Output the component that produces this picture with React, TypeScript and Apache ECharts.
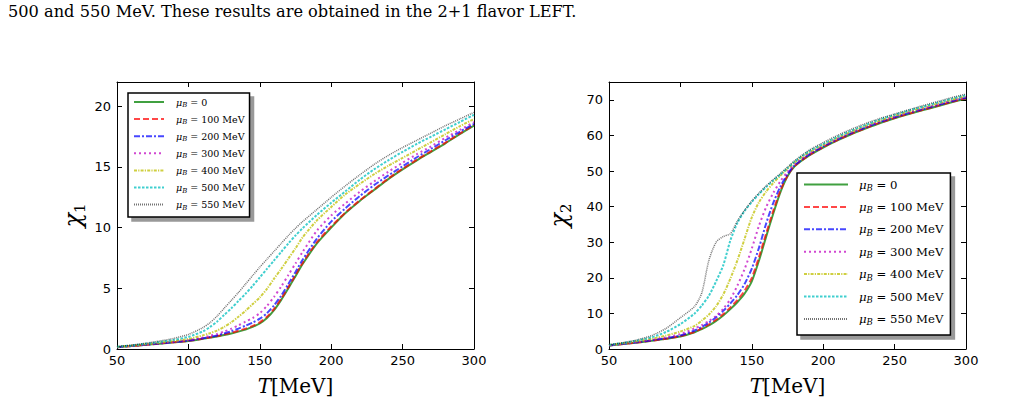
import React, { useEffect, useRef } from "react";
import * as echarts from "echarts";

// Temperature grid (MeV) shared by every curve
const temperatures = [
  50, 60, 70, 80, 90, 100, 110, 115, 120, 125, 130, 135, 140, 145, 150, 155,
  160, 165, 170, 175, 180, 190, 200, 210, 220, 230, 240, 250, 260, 270, 280, 290, 300,
];

// Baryon chemical potentials
const muValues = ["0", "100 MeV", "200 MeV", "300 MeV", "400 MeV", "500 MeV", "550 MeV"];

// chi_1 for each mu_B
const chi1Mu0 = [0.15, 0.24, 0.34, 0.44, 0.55, 0.66, 0.84, 0.94, 1.03, 1.15, 1.28, 1.43, 1.6, 1.82, 2.1, 2.55, 3.2, 4.05, 5.0, 6.0, 7.0, 8.7, 10.0, 11.2, 12.2, 13.1, 14.0, 14.8, 15.55, 16.25, 16.95, 17.7, 18.4];
const chi1Mu100 = [0.15, 0.24, 0.34, 0.45, 0.56, 0.67, 0.85, 0.95, 1.06, 1.19, 1.33, 1.5, 1.68, 1.9, 2.2, 2.65, 3.3, 4.15, 5.1, 6.1, 7.1, 8.8, 10.1, 11.25, 12.25, 13.15, 14.05, 14.85, 15.6, 16.3, 17.0, 17.75, 18.45];
const chi1Mu200 = [0.15, 0.25, 0.35, 0.46, 0.57, 0.69, 0.88, 0.99, 1.12, 1.28, 1.46, 1.68, 1.92, 2.18, 2.5, 2.95, 3.6, 4.4, 5.35, 6.35, 7.35, 9.1, 10.5, 11.6, 12.6, 13.5, 14.3, 15.05, 15.8, 16.5, 17.2, 17.9, 18.55];
const chi1Mu300 = [0.16, 0.26, 0.37, 0.48, 0.6, 0.74, 0.95, 1.08, 1.24, 1.43, 1.67, 1.95, 2.25, 2.55, 2.95, 3.55, 4.3, 5.15, 6.1, 7.05, 8.0, 9.75, 11.0, 12.0, 12.95, 13.8, 14.6, 15.35, 16.05, 16.7, 17.4, 18.05, 18.7];
const chi1Mu400 = [0.17, 0.27, 0.39, 0.52, 0.66, 0.83, 1.12, 1.3, 1.52, 1.82, 2.2, 2.65, 3.15, 3.7, 4.25, 4.95, 5.8, 6.6, 7.45, 8.3, 9.2, 10.6, 11.7, 12.75, 13.6, 14.4, 15.1, 15.75, 16.4, 17.05, 17.7, 18.35, 18.95];
const chi1Mu500 = [0.18, 0.29, 0.43, 0.58, 0.76, 1.0, 1.45, 1.8, 2.25, 2.8, 3.35, 3.95, 4.55, 5.2, 5.9, 6.6, 7.3, 8.0, 8.7, 9.35, 9.95, 11.05, 12.05, 13.0, 13.95, 14.8, 15.55, 16.25, 16.9, 17.5, 18.1, 18.7, 19.3];
const chi1Mu550 = [0.2, 0.32, 0.48, 0.66, 0.88, 1.2, 1.75, 2.15, 2.7, 3.35, 4.0, 4.65, 5.35, 6.05, 6.75, 7.4, 8.05, 8.7, 9.35, 9.95, 10.5, 11.5, 12.5, 13.45, 14.35, 15.2, 15.95, 16.6, 17.2, 17.8, 18.4, 18.95, 19.5];

// chi_2 for each mu_B
const chi2Mu0 = [1.0, 1.4, 1.8, 2.3, 2.85, 3.5, 4.7, 5.6, 6.6, 7.9, 9.4, 11.2, 13.2, 15.6, 19.0, 24.8, 31.5, 38.0, 44.0, 48.5, 51.3, 54.3, 56.6, 58.6, 60.4, 62.0, 63.5, 64.8, 66.0, 67.1, 68.2, 69.3, 70.3];
const chi2Mu100 = [1.0, 1.4, 1.85, 2.35, 2.9, 3.6, 4.85, 5.8, 6.9, 8.2, 9.8, 11.7, 13.8, 16.4, 20.0, 25.8, 32.4, 38.8, 44.5, 48.7, 51.4, 54.4, 56.7, 58.7, 60.5, 62.1, 63.6, 64.9, 66.1, 67.2, 68.3, 69.4, 70.4];
const chi2Mu200 = [1.0, 1.45, 1.9, 2.45, 3.05, 3.8, 5.2, 6.2, 7.4, 8.9, 10.7, 12.8, 15.2, 18.3, 22.6, 28.4, 35.2, 41.0, 45.6, 49.1, 51.6, 54.6, 56.9, 58.9, 60.7, 62.3, 63.8, 65.1, 66.3, 67.4, 68.5, 69.6, 70.6];
const chi2Mu300 = [1.05, 1.5, 2.0, 2.6, 3.3, 4.2, 5.8, 6.7, 7.9, 9.3, 11.3, 14.0, 17.9, 22.5, 28.2, 34.6, 39.8, 43.8, 47.1, 49.8, 52.0, 54.9, 57.1, 59.1, 60.9, 62.5, 64.0, 65.3, 66.5, 67.6, 68.7, 69.8, 70.8];
const chi2Mu400 = [1.1, 1.6, 2.2, 2.9, 3.8, 4.9, 6.5, 8.0, 9.7, 12.0, 15.3, 19.8, 25.0, 31.0, 37.0, 41.2, 44.2, 46.6, 48.7, 50.6, 52.4, 55.2, 57.3, 59.3, 61.1, 62.7, 64.2, 65.5, 66.7, 67.8, 68.9, 70.0, 71.0];
const chi2Mu500 = [1.15, 1.7, 2.4, 3.3, 4.8, 7.0, 10.0, 12.2, 15.0, 19.0, 23.5, 30.5, 35.5, 38.8, 41.3, 43.5, 45.5, 47.3, 49.0, 50.8, 52.6, 55.5, 57.6, 59.6, 61.4, 63.0, 64.5, 65.8, 67.0, 68.1, 69.2, 70.3, 71.3];
const chi2Mu550 = [1.2, 1.8, 2.6, 3.8, 5.8, 8.8, 12.0, 15.8, 25.0, 30.0, 31.6, 32.4, 36.0, 39.0, 41.6, 43.8, 45.8, 47.6, 49.3, 51.1, 52.9, 55.8, 58.0, 60.0, 61.8, 63.4, 64.8, 66.0, 67.2, 68.4, 69.5, 70.6, 71.6];

const chi1Curves = [chi1Mu0, chi1Mu100, chi1Mu200, chi1Mu300, chi1Mu400, chi1Mu500, chi1Mu550];
const chi2Curves = [chi2Mu0, chi2Mu100, chi2Mu200, chi2Mu300, chi2Mu400, chi2Mu500, chi2Mu550];

const captionText = "500 and 550 MeV. These results are obtained in the 2+1 flavor LEFT.";

// Line appearance per mu_B
const lineColors = [
  "rgba(0,128,0,0.75)",
  "rgba(255,0,0,0.72)",
  "rgba(0,0,255,0.72)",
  "rgba(191,0,191,0.72)",
  "rgba(191,191,0,0.75)",
  "rgba(0,191,191,0.75)",
  "rgba(0,0,0,0.55)",
];
const lineDashes: any[] = ["solid", [6, 3], [6, 2, 2, 2], [2, 3], [3, 1.2, 1.2, 1.2], [2.5, 1.5], [1, 1]];
const lineWidths = [2, 2, 2, 2, 2, 2, 1.5];

const SERIF = "'DejaVu Serif', serif";
const SANS = "'DejaVu Sans', sans-serif";

const seriesNames = muValues.map((v) => "μB = " + v);

function legendFormatter(name: string) {
  const i = seriesNames.indexOf(name);
  return "{m|μ}{b|B}{e| = " + muValues[i] + "}";
}

function buildSeries(curves: number[][], axisIndex: number) {
  return curves.map((vals, i) => ({
    type: "line",
    name: seriesNames[i],
    xAxisIndex: axisIndex,
    yAxisIndex: axisIndex,
    data: temperatures.map((t, k) => [t, vals[k]]),
    showSymbol: false,
    symbol: "none",
    smooth: 0.25,
    clip: true,
    lineStyle: { color: lineColors[i], width: lineWidths[i], type: lineDashes[i] },
    itemStyle: { color: lineColors[i] },
    emphasis: { disabled: true },
  }));
}

function frameAxes(gridIndex: number, yMax: number, yInterval: number, yNameGap: number, yName: string) {
  const tick = { inside: true, length: 5, lineStyle: { color: "#000", width: 1 } };
  const line = { show: true, onZero: false, lineStyle: { color: "#000", width: 1 } };
  const xAxes = [
    {
      type: "value",
      gridIndex,
      min: 50,
      max: 300,
      interval: 50,
      position: "bottom",
      axisLine: line,
      axisTick: tick,
      splitLine: { show: false },
      axisLabel: { color: "#000", fontFamily: SANS, fontSize: 13, margin: 5 },
      name: "{t|T}{r|[MeV]}",
      nameLocation: "middle",
      nameGap: 25,
      nameTextStyle: {
        rich: {
          t: { fontFamily: SERIF, fontSize: 20, fontStyle: "italic", color: "#000", lineHeight: 24 },
          r: { fontFamily: SERIF, fontSize: 20, color: "#000", lineHeight: 24 },
        },
      },
    },
    {
      type: "value",
      gridIndex,
      min: 50,
      max: 300,
      interval: 50,
      position: "top",
      axisLine: line,
      axisTick: tick,
      splitLine: { show: false },
      axisLabel: { show: false },
    },
  ];
  const yAxes = [
    {
      type: "value",
      gridIndex,
      min: 0,
      max: yMax,
      interval: yInterval,
      position: "left",
      axisLine: line,
      axisTick: tick,
      splitLine: { show: false },
      axisLabel: { color: "#000", fontFamily: SANS, fontSize: 13, margin: 6, showMaxLabel: false },
      name: "{c|χ}{s|" + yName + "}",
      nameLocation: "middle",
      nameRotate: 90,
      nameGap: yNameGap,
      nameTextStyle: {
        rich: {
          c: { fontFamily: SERIF, fontSize: 24, fontStyle: "italic", color: "#000", lineHeight: 28 },
          s: { fontFamily: SERIF, fontSize: 15, color: "#000", lineHeight: 12, verticalAlign: "bottom" },
        },
      },
    },
    {
      type: "value",
      gridIndex,
      min: 0,
      max: yMax,
      interval: yInterval,
      position: "right",
      axisLine: line,
      axisTick: tick,
      splitLine: { show: false },
      axisLabel: { show: false },
    },
  ];
  return { xAxes, yAxes };
}

function buildOption() {
  const left = frameAxes(0, 22, 5, 30, "1");
  const right = frameAxes(1, 75, 10, 36, "2");

  const legendCommon = {
    orient: "vertical",
    selectedMode: false,
    data: seriesNames,
    formatter: legendFormatter,
    backgroundColor: "#fff",
    borderColor: "#000",
    borderWidth: 1.5,
    borderRadius: 0,
    shadowColor: "rgba(0,0,0,0.4)",
    shadowBlur: 0,
    shadowOffsetX: 4,
    shadowOffsetY: 4,
    itemStyle: { opacity: 0 },
  };

  return {
    animation: false,
    backgroundColor: "#fff",
    textStyle: { fontFamily: SANS },
    graphic: [
      {
        type: "text",
        left: 8,
        top: 3,
        style: { text: captionText, fontFamily: SERIF, fontSize: 16.2, fill: "#000" },
      },
    ],
    grid: [
      { left: 117, top: 82, width: 357, height: 267, containLabel: false },
      { left: 609, top: 82, width: 357, height: 267, containLabel: false },
    ],
    xAxis: [...left.xAxes, ...right.xAxes],
    yAxis: [...left.yAxes, ...right.yAxes],
    legend: [
      {
        ...legendCommon,
        left: 128,
        top: 93,
        padding: [4, 5, 6, 5],
        itemWidth: 30,
        itemHeight: 10,
        itemGap: 5.6,
        textStyle: {
          rich: {
            m: { fontFamily: SERIF, fontSize: 9.5, fontStyle: "italic", color: "#000", lineHeight: 13, padding: [0, 0, 0, 7] },
            b: { fontFamily: SERIF, fontSize: 6.8, fontStyle: "italic", color: "#000", lineHeight: 7, verticalAlign: "bottom" },
            e: { fontFamily: SERIF, fontSize: 9.5, color: "#000", lineHeight: 13 },
          },
        },
      },
      {
        ...legendCommon,
        left: 797,
        top: 173,
        padding: [5.5, 7, 8, 6],
        itemWidth: 44,
        itemHeight: 12,
        itemGap: 8.4,
        textStyle: {
          rich: {
            m: { fontFamily: SERIF, fontSize: 11.7, fontStyle: "italic", color: "#000", lineHeight: 16, padding: [0, 0, 0, 6] },
            b: { fontFamily: SERIF, fontSize: 8.5, fontStyle: "italic", color: "#000", lineHeight: 9, verticalAlign: "bottom" },
            e: { fontFamily: SERIF, fontSize: 11.7, color: "#000", lineHeight: 16 },
          },
        },
      },
    ],
    series: [...buildSeries(chi1Curves, 0), ...buildSeries(chi2Curves, 2)],
  };
}

export default function App() {
  const ref = useRef<HTMLDivElement>(null);
  useEffect(() => {
    if (!ref.current) return;
    const chart = echarts.init(ref.current, null, { renderer: "svg" });
    chart.setOption(buildOption() as any);
    return () => chart.dispose();
  }, []);
  return (
    <div
      ref={ref}
      style={{ position: "absolute", left: 0, top: 0, width: 1026, height: 403, background: "#fff" }}
    />
  );
}
